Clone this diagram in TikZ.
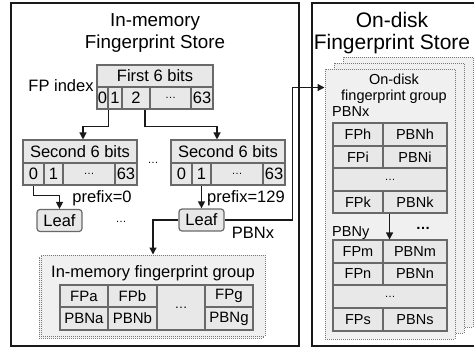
\documentclass[tikz,border=0pt]{standalone}
\usepackage{fontspec}
\setmainfont{Liberation Sans}
\usetikzlibrary{arrows.meta}
\definecolor{cellfill}{RGB}{232,232,232}
\definecolor{grpfill}{RGB}{240,240,240}
\definecolor{bordergray}{RGB}{105,105,105}
\definecolor{dotgray}{RGB}{120,120,120}
\newcommand\ftitle{\fontsize{18.8}{22}\selectfont}
\newcommand\ftitleb{\fontsize{21}{21.5}\selectfont}
\newcommand\fmain{\fontsize{16.5}{19}\selectfont}
\newcommand\fcell{\fontsize{15}{17}\selectfont}
\newcommand\fsm{\fontsize{14.5}{16}\selectfont}
\newcommand\mydots{{\fontsize{11}{11}\selectfont …}}
\newcommand\mycell[7]{\node[cell,font=#7,minimum width={(#4-#2)*1pt},minimum height={(#5-#3)*1pt}] (#1) at ({(#2+#4)/2},{(#3+#5)/2}) {#6};}
\begin{document}
\begin{tikzpicture}[x=1pt,y=-1pt,
  cell/.style={draw=bordergray,fill=cellfill,line width=1.1pt,inner sep=0pt,anchor=center},
  outer/.style={draw=black!90,line width=1.3pt,inner sep=0pt},
  grp/.style={draw=dotgray,fill=grpfill,line width=1pt,dash pattern=on 1pt off 1pt,inner sep=0pt},
  leaf/.style={draw=bordergray,fill=cellfill,line width=1.2pt,rounded corners=3pt,inner sep=0pt,minimum width=45pt,minimum height=22pt,font=\fmain},
  arr/.style={draw=black!90,line width=1.3pt,-{Triangle[length=7pt,width=7pt]}},
  lbl/.style={inner sep=0pt,font=\fmain}]
\useasboundingbox (0,0) rectangle (474,349);
% outer stores
\node[outer,minimum width=288pt,minimum height=343pt] (inmem) at (155,174.5) {};
\node[outer,minimum width=166pt,minimum height=343pt] (ondisk) at (395,174.5) {};
\node[lbl,font=\ftitle,align=center] (t1) at (155,33) {In-memory\\Fingerprint Store};
\node[lbl,font=\ftitleb,align=center] (t2) at (392,33) {On-disk\\Fingerprint Store};
% FP index
\node[lbl] (fpidx) at (61,86) {FP index};
\mycell{fph}{97}{65}{213}{87}{First 6 bits}{\fmain}
\mycell{a0}{97}{87}{108}{109}{0}{\fmain}
\mycell{a1}{108}{87}{122}{109}{1}{\fmain}
\mycell{a2}{122}{87}{150}{109}{2}{\fmain}
\mycell{a3}{150}{87}{191}{109}{\mydots}{\fmain}
\mycell{a4}{191}{87}{213}{109}{63}{\fmain}
% second level left
\mycell{bh}{23}{140}{137}{163}{Second 6 bits}{\fmain}
\mycell{b0}{23}{163}{44}{185}{0}{\fmain}
\mycell{b1}{44}{163}{63}{185}{1}{\fmain}
\mycell{b2}{63}{163}{115}{185}{\mydots}{\fmain}
\mycell{b3}{115}{163}{137}{185}{63}{\fmain}
% second level right
\mycell{ch}{171}{140}{285}{163}{Second 6 bits}{\fmain}
\mycell{c0}{171}{163}{192}{185}{0}{\fmain}
\mycell{c1}{192}{163}{211}{185}{1}{\fmain}
\mycell{c2}{211}{163}{263}{185}{\mydots}{\fmain}
\mycell{c3}{263}{163}{285}{185}{63}{\fmain}
\node[lbl] (mdots) at (153,163) {\mydots};
% leaves
\node[leaf] (leafl) at (59.5,220.5) {Leaf};
\node[leaf] (leafr) at (201.5,220) {Leaf};
\node[lbl] (p0) at (102,198) {prefix=0};
\node[lbl] (p129) at (246,198) {prefix=129};
\node[lbl] (ldots) at (121,222) {\mydots};
\node[lbl] (pbnx) at (253,233) {PBNx};
% arrows in tree
\draw[arr] (a0.south east) -- ++(0,17) -| ([xshift=3pt]bh.north);
\draw[arr] ([xshift=9pt]a2.south) -- ++(0,17) -| ([xshift=-11pt]ch.north);
\draw[arr] (b0.south) -- ++(0,10) -| (leafl.north);
\draw[arr] (c1.south) -- (leafr.north);
% in-memory group
\node[grp,minimum width=224pt,minimum height=81pt] (imgrps) at (151,297.5) {};
\node[grp,minimum width=224pt,minimum height=81pt] (imgrp) at (153,295.5) {};
\node[lbl] (imt) at (153,273) {In-memory fingerprint group};
\mycell{fpa}{60}{285}{108}{307}{FPa}{\fcell}
\mycell{pbna}{60}{307}{108}{330}{PBNa}{\fcell}
\mycell{fpb}{108}{285}{157}{307}{FPb}{\fcell}
\mycell{pbnb}{108}{307}{157}{330}{PBNb}{\fcell}
\mycell{gdots}{157}{285}{205}{330}{{\fontsize{13}{13}\selectfont …}}{\fcell}
\mycell{fpg}{205}{285}{253}{307}{FPg}{\fcell}
\mycell{pbng}{205}{307}{253}{330}{PBNg}{\fcell}
\draw[arr] (leafr.west) -| (imgrp.north);
% on-disk groups
\node[grp,minimum width=130pt,minimum height=270pt] (od3) at (408,192) {};
\node[grp,minimum width=130pt,minimum height=270pt] (od2) at (399,198) {};
\node[grp,minimum width=130pt,minimum height=270pt] (odf) at (390,204) {};
\node[lbl,font=\fsm,align=center] (odt) at (394,89) {On-disk\\fingerprint group};
\node[lbl,font=\fsm,anchor=west] (pbnx2) at (332,112) {PBNx};
\mycell{fph2}{333}{123}{383}{146}{FPh}{\fsm}
\mycell{pbnh}{383}{123}{447}{146}{PBNh}{\fsm}
\mycell{fpi}{333}{146}{383}{168}{FPi}{\fsm}
\mycell{pbni}{383}{146}{447}{168}{PBNi}{\fsm}
\mycell{kdots}{333}{168}{447}{191}{\mydots}{\fsm}
\mycell{fpk}{333}{191}{383}{213}{FPk}{\fsm}
\mycell{pbnk}{383}{191}{447}{213}{PBNk}{\fsm}
\node[lbl,font=\fsm\bfseries] (tdots) at (423,228) {…};
\node[lbl,font=\fsm,anchor=west] (pbny) at (332,233) {PBNy};
\mycell{fpm}{333}{240}{383}{263}{FPm}{\fsm}
\mycell{pbnm}{383}{240}{447}{263}{PBNm}{\fsm}
\mycell{fpn}{333}{263}{383}{285}{FPn}{\fsm}
\mycell{pbnn}{383}{263}{447}{285}{PBNn}{\fsm}
\mycell{sdots}{333}{285}{447}{308}{\mydots}{\fsm}
\mycell{fps}{333}{308}{383}{331}{FPs}{\fsm}
\mycell{pbns}{383}{308}{447}{331}{PBNs}{\fsm}
\draw[arr] ([xshift=6pt]fpk.south east) -- ([xshift=6pt]fpm.north east);
% leaf to on-disk
\coordinate (odin) at ([yshift=-19pt]odf.north west);
\draw[arr] (leafr.east) -| ([xshift=-32pt]odin) -- (odin);
\end{tikzpicture}
\end{document}
